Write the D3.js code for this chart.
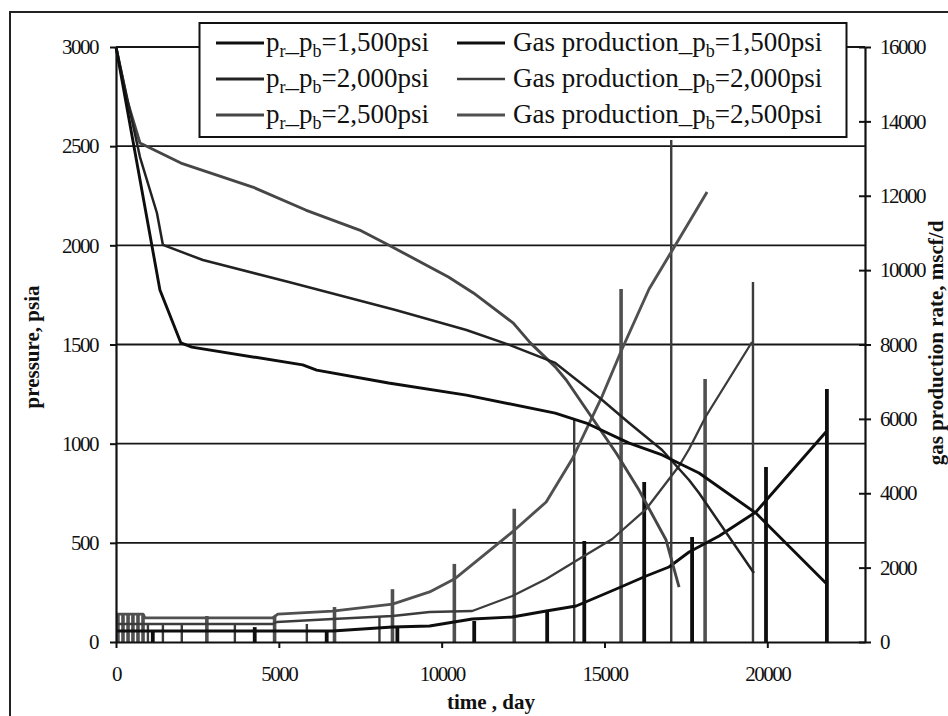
<!DOCTYPE html>
<html>
<head>
<meta charset="utf-8">
<script src="https://cdn.jsdelivr.net/npm/d3@7/dist/d3.min.js"></script>
<style>
  html, body { margin: 0; padding: 0; background: #fff; }
  svg { display: block; }
  text { font-family: "Liberation Serif", "Times New Roman", serif; fill: #111; }
</style>
</head>
<body>
<svg id="chart" width="948" height="716"></svg>
<script>
// Reservoir pressure (psia) against time (day) for three bubble-point pressures
const pr1500 = [[0,3000],[460,2581],[1349,1775],[1993,1508],[2330,1487],[5733,1397],[6162,1371],[8369,1306],[10760,1245],[13488,1154],[14439,1104],[15757,1003],[16769,943],[17903,852],[19650,650],[21796,297]];
const pr2000 = [[0,3000],[736,2445],[1257,2163],[1441,2002],[2667,1926],[5304,1815],[8584,1674],[10760,1573],[12078,1498],[13488,1407],[14929,1220],[15757,1104],[16769,968],[17597,817],[17903,751],[19589,348]];
const pr2500 = [[0,3000],[337,2733],[736,2516],[1993,2415],[4200,2294],[5825,2178],[7480,2077],[8369,2002],[10208,1840],[10975,1760],[12201,1608],[12722,1508],[13488,1387],[13826,1321],[15359,953],[16060,766],[16892,514],[17290,277]];

// Gas production rate (mscf/d) against time (day)
const gas1500 = [[0,296],[6650,296],[8490,403],[9630,430],[10940,618],[12170,672],[13210,834],[14130,968],[15360,1425],[16280,1775],[16980,2017],[17600,2420],[18520,2850],[19650,3496],[21800,5647]];
const gas2000 = [[0,484],[4810,484],[4940,538],[6650,618],[8490,699],[9630,807],[10940,834],[12170,1237],[13210,1694],[14220,2232],[15240,2770],[16280,3576],[17290,4733],[17600,5190],[18120,6077],[19530,8067]];
const gas2500 = [[0,750],[830,750],[890,650],[4810,650],[4970,750],[6650,830],[8490,1020],[9630,1345],[10390,1694],[12170,2958],[13210,3765],[14010,4921],[14930,6615],[15540,7879],[16370,9492],[17290,10837],[18150,12100]];

// Short-lived rate peaks at restarts: [time, peak rate]
const spikes1500 = [[1130,296],[4260,400],[6470,296],[8640,430],[11000,565],[13240,834],[14380,2716],[16220,4302],[17690,2823],[19960,4706],[21830,6803]];
const spikes2000 = [[980,484],[1440,484],[2020,484],[3650,484],[5860,484],[8090,700],[14070,6000],[17050,13500],[19560,9680]];
const spikes2500 = [[60,750],[215,750],[370,750],[520,750],[675,750],[830,750],[2790,700],[4870,700],[6710,940],[8490,1420],[10390,2100],[12230,3580],[15510,9490],[18090,7070]];

// Axis ticks
const timeTicks = [0, 5000, 10000, 15000, 20000];
const pressureTicks = [0, 500, 1000, 1500, 2000, 2500, 3000];
const rateTicks = [0, 2000, 4000, 6000, 8000, 10000, 12000, 14000, 16000];

const legendLeft = [
  { sub1: "r", sub2: "b", rest: "=1,500psi" },
  { sub1: "r", sub2: "b", rest: "=2,000psi" },
  { sub1: "r", sub2: "b", rest: "=2,500psi" }
];
const legendRight = ["=1,500psi", "=2,000psi", "=2,500psi"];

const svg = d3.select("#chart");
const plot = { left: 116, right: 865, top: 47, bottom: 642 };

const x = d3.scaleLinear([0, 23000], [plot.left, plot.right]);
const yP = d3.scaleLinear([0, 3000], [plot.bottom, plot.top]);
const yG = d3.scaleLinear([0, 16000], [plot.bottom, plot.top]);

// chart frame
svg.append("rect").attr("x", 10).attr("y", 12).attr("width", 960).attr("height", 740)
  .attr("fill", "none").attr("stroke", "#222").attr("stroke-width", 2);

// horizontal gridlines
svg.append("g").selectAll("line").data(pressureTicks.slice(1)).join("line")
  .attr("x1", plot.left).attr("x2", plot.right)
  .attr("y1", d => yP(d)).attr("y2", d => yP(d))
  .attr("stroke", "#161616").attr("stroke-width", 1.9);

const styles = {
  pr1500: { color: "#0e0e0e", width: 2.9 },
  pr2000: { color: "#222", width: 2.5 },
  pr2500: { color: "#464646", width: 2.9 },
  gas1500: { color: "#0e0e0e", width: 2.9 },
  gas2000: { color: "#3c3c3c", width: 2.3 },
  gas2500: { color: "#505050", width: 2.9 }
};

const lineP = d3.line().x(d => x(d[0])).y(d => yP(d[1]));
const lineG = d3.line().x(d => x(d[0])).y(d => yG(d[1]));

const gSeries = svg.append("g");
function drawSpikes(data, st, w) {
  gSeries.append("g").selectAll("line").data(data).join("line")
    .attr("x1", d => x(d[0])).attr("x2", d => x(d[0]))
    .attr("y1", yG(0)).attr("y2", d => yG(d[1]))
    .attr("stroke", st.color).attr("stroke-width", w);
}
drawSpikes(spikes2500, styles.gas2500, 3.6);
drawSpikes(spikes2000, styles.gas2000, 2.4);
drawSpikes(spikes1500, styles.gas1500, 3.8);

[[gas2500, styles.gas2500], [gas2000, styles.gas2000], [gas1500, styles.gas1500]].forEach(([d, st]) => {
  gSeries.append("path").datum(d).attr("d", lineG)
    .attr("fill", "none").attr("stroke", st.color).attr("stroke-width", st.width).attr("stroke-linejoin", "round");
});
[[pr2500, styles.pr2500], [pr2000, styles.pr2000], [pr1500, styles.pr1500]].forEach(([d, st]) => {
  gSeries.append("path").datum(d).attr("d", lineP)
    .attr("fill", "none").attr("stroke", st.color).attr("stroke-width", st.width).attr("stroke-linejoin", "round");
});

// axes
function styleAxis(g) {
  g.select(".domain").attr("stroke", "#111").attr("stroke-width", 2.2);
  g.selectAll(".tick line").attr("stroke", "#111").attr("stroke-width", 2);
  g.selectAll(".tick text").attr("font-size", 21).attr("letter-spacing", "-1.5px")
    .attr("font-family", "Liberation Serif, serif").attr("fill", "#111");
}

svg.append("g").attr("transform", `translate(${plot.left},0)`)
  .call(d3.axisLeft(yP).tickValues(pressureTicks).tickSize(6).tickPadding(12).tickSizeOuter(0).tickFormat(d3.format("d")))
  .call(styleAxis);

svg.append("g").attr("transform", `translate(0,${plot.bottom})`)
  .call(d3.axisBottom(x).tickValues(timeTicks).tickSize(6).tickPadding(18).tickSizeOuter(0).tickFormat(d3.format("d")))
  .call(styleAxis);

const rightAxis = svg.append("g").attr("transform", `translate(${plot.right},0)`)
  .call(d3.axisRight(yG).tickValues(rateTicks).tickSize(6).tickPadding(9).tickSizeOuter(0).tickFormat(d3.format("d")))
  .call(styleAxis);
// right-axis ticks cross the axis line
rightAxis.selectAll(".tick").append("line").attr("x1", -6).attr("x2", 0)
  .attr("stroke", "#111").attr("stroke-width", 2);

// axis titles
svg.append("text").attr("transform", "translate(39,347) rotate(-90)")
  .attr("text-anchor", "middle").attr("font-size", 21).attr("font-weight", "bold")
  .text("pressure, psia");
svg.append("text").attr("x", 491).attr("y", 709)
  .attr("text-anchor", "middle").attr("font-size", 21).attr("font-weight", "bold")
  .text("time , day");
svg.append("text").attr("transform", "translate(943,343) rotate(-90)")
  .attr("text-anchor", "middle").attr("font-size", 21).attr("font-weight", "bold")
  .text("gas production rate, mscf/d");

// legend
const lg = svg.append("g");
lg.append("rect").attr("x", 199.5).attr("y", 23).attr("width", 647).attr("height", 114)
  .attr("fill", "#fff").attr("stroke", "#111").attr("stroke-width", 2);
const rowY = [43, 79, 115];
const leftStyles = [styles.pr1500, styles.pr2000, styles.pr2500];
const rightStyles = [styles.gas1500, styles.gas2000, styles.gas2500];
const fs = 27, subFs = 18, shift = 6;

legendLeft.forEach((e, i) => {
  lg.append("line").attr("x1", 216).attr("x2", 264).attr("y1", rowY[i]).attr("y2", rowY[i])
    .attr("stroke", leftStyles[i].color).attr("stroke-width", leftStyles[i].width + 0.3);
  const t = lg.append("text").attr("x", 266).attr("y", rowY[i] + 8).attr("font-size", fs);
  t.append("tspan").text("p");
  t.append("tspan").attr("font-size", subFs).attr("dy", shift).text(e.sub1);
  t.append("tspan").attr("dy", -shift).text("_p");
  t.append("tspan").attr("font-size", subFs).attr("dy", shift).text(e.sub2);
  t.append("tspan").attr("dy", -shift).text(e.rest);
});
legendRight.forEach((rest, i) => {
  lg.append("line").attr("x1", 457).attr("x2", 505).attr("y1", rowY[i]).attr("y2", rowY[i])
    .attr("stroke", rightStyles[i].color).attr("stroke-width", rightStyles[i].width + 0.3);
  const t = lg.append("text").attr("x", 513).attr("y", rowY[i] + 8).attr("font-size", fs);
  t.append("tspan").text("Gas production_p");
  t.append("tspan").attr("font-size", subFs).attr("dy", shift).text("b");
  t.append("tspan").attr("dy", -shift).text(rest);
});
</script>
</body>
</html>
